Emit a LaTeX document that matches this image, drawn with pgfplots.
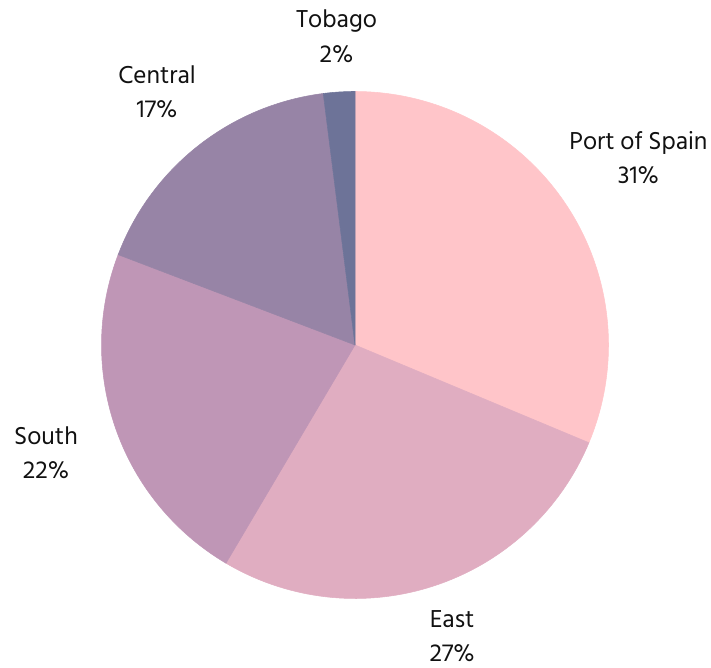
\documentclass[border=0pt]{standalone}
\usepackage{pgfplots}
\pgfplotsset{compat=1.18}
\usepackage{fontspec}
\setmainfont{Hind Siliguri}
\definecolor{cPoS}{HTML}{FFC5C9}
\definecolor{cEast}{HTML}{E0ADC1}
\definecolor{cSouth}{HTML}{BF96B6}
\definecolor{cCentral}{HTML}{9784A6}
\definecolor{cTobago}{HTML}{6D7398}
\definecolor{txt}{HTML}{111111}
% shares (percent), clockwise from 12 o'clock
\def\vA{31.3}% Port of Spain
\def\vB{27.2}% East
\def\vC{22.3}% South
\def\vD{17.2}% Central
\def\vE{2.0}%  Tobago
\pgfmathsetmacro\aA{90}
\pgfmathsetmacro\aB{\aA-3.6*\vA}
\pgfmathsetmacro\aC{\aB-3.6*\vB}
\pgfmathsetmacro\aD{\aC-3.6*\vC}
\pgfmathsetmacro\aE{\aD-3.6*\vD}
\pgfmathsetmacro\aF{\aE-3.6*\vE}
\begin{document}
\begin{tikzpicture}
\begin{axis}[
  scale only axis,
  width=14.22cm, height=13.34cm,
  xmin=-1.4004, xmax=1.4043,
  ymin=-1.2702, ymax=1.3609,
  hide axis,
  clip=false,
  samples=80,
]
\path (rel axis cs:0,0) rectangle (rel axis cs:1,1);
\addplot[fill=cPoS, draw=cPoS, line width=0.3pt, domain=\aB:\aA, variable=\t] ({cos(\t)},{sin(\t)}) -- (axis cs:0,0) -- cycle;
\addplot[fill=cEast, draw=cEast, line width=0.3pt, domain=\aC:\aB, variable=\t] ({cos(\t)},{sin(\t)}) -- (axis cs:0,0) -- cycle;
\addplot[fill=cSouth, draw=cSouth, line width=0.3pt, domain=\aD:\aC, variable=\t] ({cos(\t)},{sin(\t)}) -- (axis cs:0,0) -- cycle;
\addplot[fill=cCentral, draw=cCentral, line width=0.3pt, domain=\aE:\aD, variable=\t] ({cos(\t)},{sin(\t)}) -- (axis cs:0,0) -- cycle;
\addplot[fill=cTobago, draw=cTobago, line width=0.3pt, domain=\aF:\aE, samples=10, variable=\t] ({cos(\t)},{sin(\t)}) -- (axis cs:0,0) -- cycle;
\tikzset{lab/.style={align=center, text=txt, font=\fontsize{14.3}{19.4}\selectfont, inner sep=0pt}}
\node[lab] at (axis cs:1.118,0.738) {Port of Spain\\31\%};
\node[lab] at (axis cs:0.383,-1.148) {East\\27\%};
\node[lab] at (axis cs:-1.219,-0.424) {South\\22\%};
\node[lab] at (axis cs:-0.781,0.998) {Central\\17\%};
\node[lab] at (axis cs:-0.073,1.218) {Tobago\\2\%};
\end{axis}
\end{tikzpicture}
\end{document}
